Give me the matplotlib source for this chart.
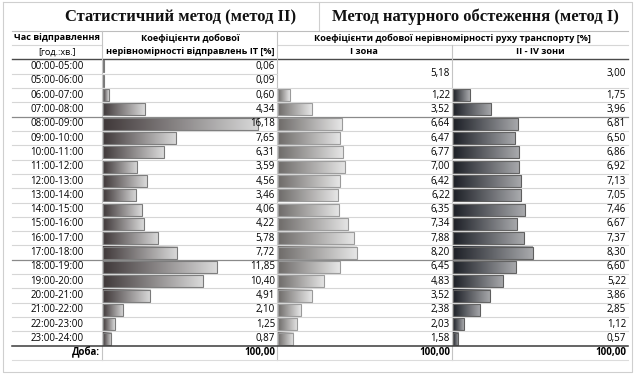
import numpy as np
import matplotlib
matplotlib.use("Agg")
import matplotlib.pyplot as plt
from matplotlib.colors import LinearSegmentedColormap

plt.rcParams['font.family'] = ['Open Sans', 'DejaVu Sans']

# ---------------- data ----------------
times = ["00:00-05:00", "05:00-06:00", "06:00-07:00", "07:00-08:00", "08:00-09:00",
         "09:00-10:00", "10:00-11:00", "11:00-12:00", "12:00-13:00", "13:00-14:00",
         "14:00-15:00", "15:00-16:00", "16:00-17:00", "17:00-18:00", "18:00-19:00",
         "19:00-20:00", "20:00-21:00", "21:00-22:00", "22:00-23:00", "23:00-24:00"]
it_coef = [0.06, 0.09, 0.60, 4.34, 16.18, 7.65, 6.31, 3.59, 4.56, 3.46,
           4.06, 4.22, 5.78, 7.72, 11.85, 10.40, 4.91, 2.10, 1.25, 0.87]
# first value covers 00:00-06:00 (merged cell)
zone1 = [5.18, 1.22, 3.52, 6.64, 6.47, 6.77, 7.00, 6.42, 6.22, 6.35,
         7.34, 7.88, 8.20, 6.45, 4.83, 3.52, 2.38, 2.03, 1.58]
zone2_4 = [3.00, 1.75, 3.96, 6.81, 6.50, 6.86, 6.92, 7.13, 7.05, 7.46,
           6.67, 7.37, 8.30, 6.60, 5.22, 3.86, 2.85, 1.12, 0.57]
total_label = "100,00"

title_left = "Статистичний метод (метод II)"
title_right = "Метод натурного обстеження (метод I)"

# ---------------- layout (pixels) ----------------
W, H = 640, 376
ROW0, PITCH, N = 59.2, 14.33, len(times)
DATA_BOT = ROW0 + PITCH * N
TOT_BOT = DATA_BOT + 14.3
COLS = [12, 102, 277, 452, 628]
PX_PER_UNIT = 9.6

fig = plt.figure(figsize=(W / 100, H / 100), dpi=100)
bg = fig.add_axes([0, 0, 1, 1])
bg.set_xlim(0, W)
bg.set_ylim(H, 0)
bg.axis('off')
bg.set_zorder(5)
bg.patch.set_alpha(0)

def fmt(v):
    return f"{v:.2f}".replace('.', ',')

light = '#d6d6d6'
# outer frame
bg.plot([3, 632, 632, 3, 3], [2, 2, 372, 372, 2], color='#cfcfcf', lw=0.8)
bg.plot([319, 319], [2, 30], color='#cfcfcf', lw=0.8)

# titles
bg.text(181, 17, title_left, fontsize=12, fontweight='bold', family='Liberation Serif',
        ha='center', va='center', color='#111111')
bg.text(475, 17, title_right, fontsize=12, fontweight='bold', family='Liberation Serif',
        ha='center', va='center', color='#111111')

# header lines
bg.plot([COLS[0], COLS[4]], [31, 31], color='#bdbdbd', lw=0.8)
bg.plot([COLS[0], COLS[1]], [45, 45], color=light, lw=0.8)
bg.plot([COLS[2], COLS[4]], [45, 45], color=light, lw=0.8)
bg.plot([COLS[0], COLS[4]], [ROW0, ROW0], color='#4a4a4a', lw=1.0)
for x in COLS[1:3]:
    bg.plot([x, x], [31, TOT_BOT], color='#c4c4c4', lw=0.8)
bg.plot([COLS[3], COLS[3]], [45, TOT_BOT], color='#c4c4c4', lw=0.8)

hfs = 6.6
bg.text(57, 38, "Час відправлення", fontsize=hfs, fontweight='bold', ha='center', va='center')
bg.text(57, 52, "[год.:хв.]", fontsize=hfs, ha='center', va='center')
bg.text(190, 38, "Коефіцієнти добової", fontsize=hfs, fontweight='bold', ha='center', va='center')
bg.text(190, 52, "нерівномірності відправлень IT [%]", fontsize=hfs, fontweight='bold',
        ha='center', va='center')
bg.text(452, 38, "Коефіцієнти добової нерівномірності руху транспорту [%]", fontsize=hfs,
        fontweight='bold', ha='center', va='center')
bg.text(364, 52, "I зона", fontsize=hfs, fontweight='bold', ha='center', va='center')
bg.text(540, 52, "II - IV зони", fontsize=hfs, fontweight='bold', ha='center', va='center')

# row lines
for i in range(1, N):
    y = ROW0 + i * PITCH
    dark = times[i] in ("08:00-09:00", "18:00-19:00")
    c = '#8a8a8a' if dark else light
    x_end = COLS[2] if i == 1 else COLS[4]
    bg.plot([COLS[0], x_end], [y, y], color=c, lw=0.9 if dark else 0.8)
bg.plot([COLS[0], COLS[4]], [DATA_BOT, DATA_BOT], color='#3a3a3a', lw=1.1)
bg.plot([COLS[0], COLS[4]], [TOT_BOT, TOT_BOT], color='#dcdcdc', lw=0.8)

vfs = 7
for i, t in enumerate(times):
    yc = ROW0 + (i + 0.5) * PITCH
    bg.text(57, yc, t, fontsize=vfs, ha='center', va='center')
    bg.text(COLS[2] - 2, yc, fmt(it_coef[i]), fontsize=vfs, ha='right', va='center')
for j in range(len(zone1)):
    yc = ROW0 + (j + 1.0) * PITCH if j == 0 else ROW0 + (j + 1.5) * PITCH
    bg.text(COLS[3] - 2, yc, fmt(zone1[j]), fontsize=vfs, ha='right', va='center')
    bg.text(COLS[4] - 2, yc, fmt(zone2_4[j]), fontsize=vfs, ha='right', va='center')

ytot = (DATA_BOT + TOT_BOT) / 2
bg.text(COLS[1] - 2, ytot, "Доба:", fontsize=vfs, fontweight='bold', ha='right', va='center')
for x in COLS[2:]:
    bg.text(x - 2, ytot, total_label, fontsize=vfs, fontweight='bold', ha='right', va='center')

# ---------------- bars ----------------
def bar_axes(x0, x1):
    ax = fig.add_axes([x0 / W, 1 - DATA_BOT / H, (x1 - x0) / W, (DATA_BOT - ROW0) / H])
    ax.set_xlim(0, (x1 - x0) / PX_PER_UNIT)
    ax.set_ylim(N, 0)
    ax.axis('off')
    ax.patch.set_alpha(0)
    ax.set_zorder(1)
    return ax

grad = np.linspace(0, 1, 256).reshape(1, -1)

def draw_bars(ax, rows, vals, c0, c1, edge):
    cmap = LinearSegmentedColormap.from_list('g', [c0, c1])
    bh = 0.84
    xl = ax.get_xlim()
    for r, v in zip(rows, vals):
        ax.imshow(grad, cmap=cmap, aspect='auto', interpolation='bilinear',
                  extent=(0, v, r + 0.5 + bh / 2, r + 0.5 - bh / 2), zorder=1)
    ax.barh([r + 0.5 for r in rows], vals, height=bh, left=0, fill=False,
            edgecolor=edge, linewidth=0.8, zorder=2)
    ax.set_xlim(xl)
    ax.set_ylim(N, 0)

ax2 = bar_axes(COLS[1] + 1, COLS[2])
draw_bars(ax2, list(range(N)), it_coef, '#3f3839', '#dadada', '#7a7a7a')

rows_z = list(range(2, N))
ax3 = bar_axes(COLS[2] + 1, COLS[3])
draw_bars(ax3, rows_z, zone1[1:], '#6e6b69', '#e6e6e6', '#9a9a9a')

ax4 = bar_axes(COLS[3] + 1, COLS[4])
draw_bars(ax4, rows_z, zone2_4[1:], '#1c1f26', '#a9aaad', '#5e5e5e')

fig.savefig("out.png", dpi=100)
